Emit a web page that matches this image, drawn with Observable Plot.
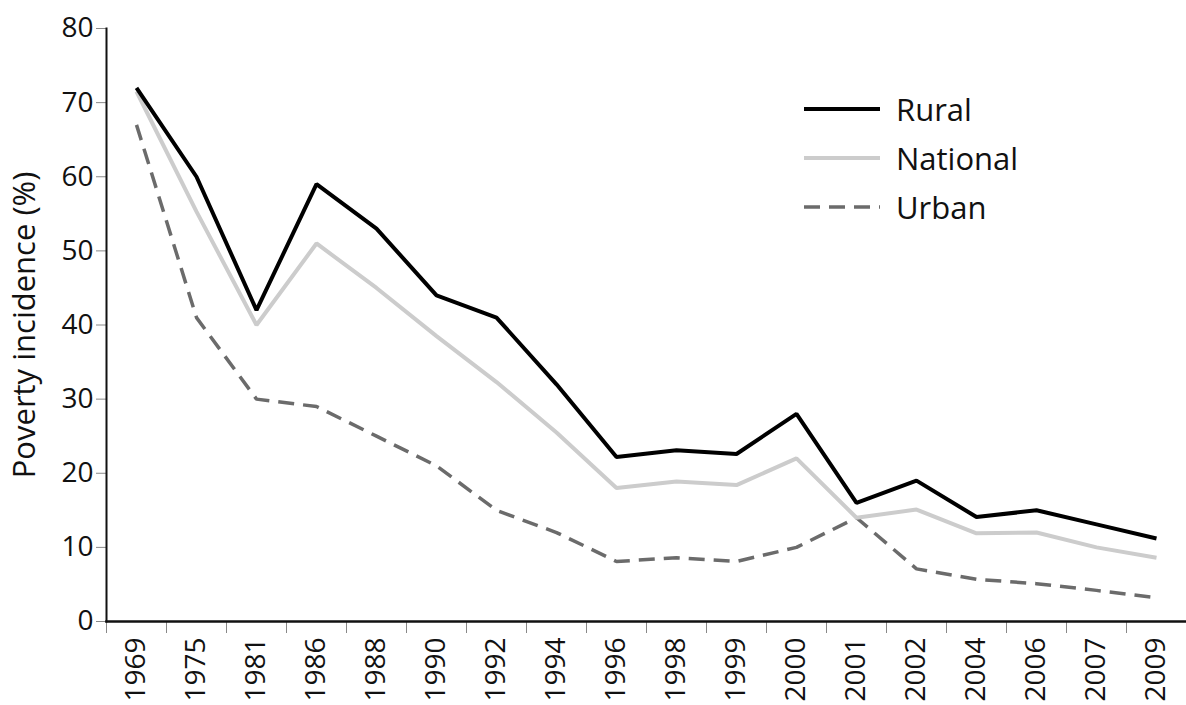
<!DOCTYPE html>
<html><head><meta charset="utf-8">
<script src="https://cdn.jsdelivr.net/npm/d3@7"></script>
<script src="https://cdn.jsdelivr.net/npm/@observablehq/plot@0.6"></script>
<style>
body{margin:0;background:#fff;font-family:"Open Sans",sans-serif;}
#wrap{position:relative;width:1186px;height:705px;}
#legend{position:absolute;left:804px;top:84.5px;}
.row{display:flex;align-items:center;height:49px;}
.row svg{width:76px;height:10px;margin-right:16px;display:block}
.row span{font-size:31px;color:#111;line-height:1}
</style></head><body><div id="wrap"><div id="legend"></div></div>
<script>
const years = ["1969","1975","1981","1986","1988","1990","1992","1994","1996","1998","1999","2000","2001","2002","2004","2006","2007","2009"];
const rural    = [72, 60, 42, 59, 53, 44, 41, 32, 22.2, 23.1, 22.6, 28, 16, 19, 14.1, 15, 13.1, 11.2];
const national = [71.5, 55.3, 40, 51, 45, 38.5, 32.3, 25.5, 18, 18.9, 18.4, 22, 14, 15.1, 11.9, 12, 10, 8.6];
const urban    = [67, 41, 30, 29, 25, 21, 15, 12, 8.1, 8.6, 8.1, 10, 14, 7.1, 5.7, 5.1, 4.2, 3.2];
const yTicks = [0, 10, 20, 30, 40, 50, 60, 70, 80];
const seriesNames = ["Rural", "National", "Urban"];
const seriesStyle = {
  Rural:    {stroke: "#000000", strokeWidth: 4, dash: null},
  National: {stroke: "#cccccc", strokeWidth: 4, dash: null},
  Urban:    {stroke: "#6b6b6b", strokeWidth: 3.5, dash: "16,9"}
};
const seriesValues = {Rural: rural, National: national, Urban: urban};

const idx = years.map((_, i) => i);
const bounds = years.map((_, i) => i - 0.5);

const lineMarks = seriesNames.slice().reverse().map(name => {
  const s = seriesStyle[name];
  const data = idx.map(i => ({i, v: seriesValues[name][i]}));
  return Plot.line(data, {x: "i", y: "v", stroke: s.stroke, strokeWidth: s.strokeWidth,
    strokeDasharray: s.dash, strokeLinejoin: "miter", strokeLinecap: "butt"});
});

const chart = Plot.plot({
  width: 1186, height: 705,
  marginLeft: 106, marginRight: 0, marginTop: 28, marginBottom: 84,
  style: {fontFamily: "Open Sans, sans-serif", color: "#111", background: "white"},
  x: {domain: [-0.5, years.length - 0.5]},
  y: {domain: [0, 80]},
  marks: [
    Plot.axisY(yTicks, {tickSize: 10, tickPadding: 3, fontSize: 28, stroke: "#888", fill: "#111", label: null}),
    Plot.axisX(bounds, {tickSize: 12, stroke: "#888", tickFormat: () => "", label: null}),
    Plot.axisX(idx, {tickSize: 0, tickPadding: 16, tickRotate: -90, fontSize: 28, fill: "#111",
      tickFormat: i => years[i], label: null}),
    Plot.text(["Poverty incidence (%)"], {frameAnchor: "left", textAnchor: "middle", rotate: -90, dx: -81,
      fontSize: 31, fill: "#111", text: d => d}),
    ...lineMarks,
    Plot.frame({anchor: "left", stroke: "#111", strokeWidth: 2}),
    Plot.frame({anchor: "bottom", stroke: "#111", strokeWidth: 2.5})
  ]
});
const wrap = document.getElementById("wrap");
wrap.insertBefore(chart, wrap.firstChild);

const legend = document.getElementById("legend");
for (const name of seriesNames) {
  const s = seriesStyle[name];
  const row = document.createElement("div");
  row.className = "row";
  row.innerHTML = `<svg viewBox="0 0 76 10"><line x1="0" x2="76" y1="5" y2="5" stroke="${s.stroke}" stroke-width="${s.strokeWidth}" ${s.dash ? `stroke-dasharray="${s.dash}"` : ""}/></svg><span>${name}</span>`;
  legend.appendChild(row);
}
</script></body></html>
